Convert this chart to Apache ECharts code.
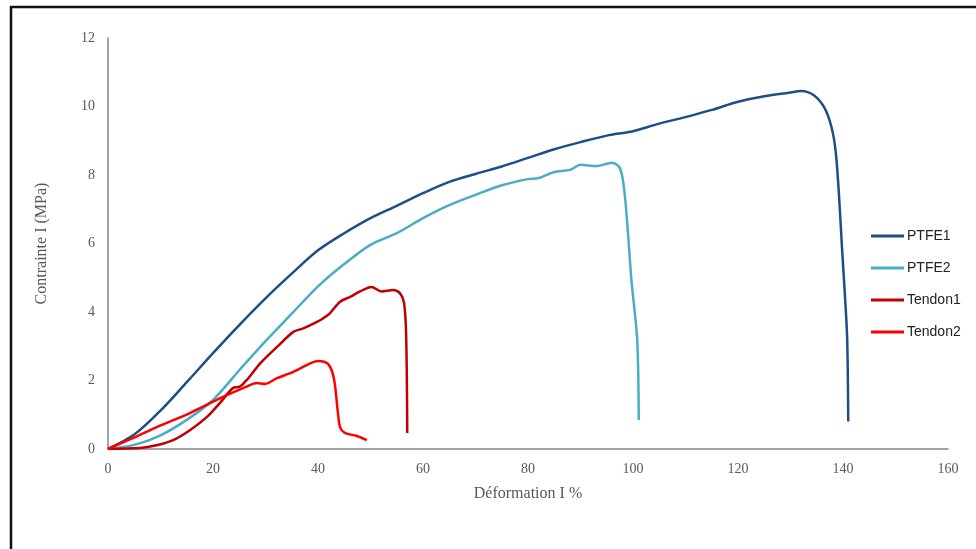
<!DOCTYPE html>
<html><head><meta charset="utf-8">
<script src="https://cdn.jsdelivr.net/npm/echarts@6/dist/echarts.min.js"></script>
<style>html,body{margin:0;padding:0;background:#fff}#c{width:976px;height:549px}</style>
</head><body><div id="c"></div>
<script>
var seriesNames = ['PTFE1', 'PTFE2', 'Tendon1', 'Tendon2'];
var xTicks = [0, 20, 40, 60, 80, 100, 120, 140, 160];
var yTicks = [0, 2, 4, 6, 8, 10, 12];
var ptfe1 = [[0,0],[5,0.42],[10,1.12],[15,1.95],[20,2.8],[25,3.62],[30,4.4],[35,5.12],[40,5.8],[45,6.3],[50,6.74],[55,7.1],[60,7.47],[65,7.8],[70,8.03],[75,8.25],[80,8.5],[85,8.75],[90,8.96],[95,9.15],[100,9.28],[105,9.5],[110,9.69],[115,9.9],[120,10.14],[125,10.3],[130,10.41],[132,10.45],[134.5,10.32],[136.5,9.95],[137.8,9.4],[138.6,8.7],[139.2,7.5],[139.8,5.9],[140.4,4.4],[140.8,3.2],[141,0.8]];
var ptfe2 = [[0,0],[5,0.12],[10,0.4],[15,0.85],[20,1.43],[25,2.3],[30,3.15],[35,3.95],[40,4.75],[45,5.4],[50,5.96],[55,6.3],[60,6.74],[65,7.12],[70,7.42],[75,7.7],[80,7.88],[82,7.91],[85,8.09],[88,8.15],[90,8.3],[93,8.26],[96,8.36],[97.5,8.2],[98.3,7.6],[99,6.4],[99.7,4.93],[100.4,3.9],[100.8,3.2],[101,2.2],[101.1,0.85]];
var tendon1 = [[0,0],[6.1,0.03],[9,0.1],[12.4,0.26],[15.6,0.55],[18.8,0.93],[21.3,1.34],[23.8,1.78],[25.1,1.82],[26.4,2.01],[29,2.5],[32.2,2.98],[35.3,3.42],[37.2,3.52],[39.8,3.71],[41,3.82],[42.3,3.97],[44.2,4.3],[46.1,4.44],[48,4.6],[50.2,4.73],[52.1,4.6],[54.3,4.64],[55.6,4.55],[56.4,4.26],[56.8,3.27],[57.0,0.47]];
var tendon2 = [[0,0],[4.5,0.3],[9.3,0.64],[15.6,1.05],[21.9,1.52],[26.4,1.82],[28.3,1.93],[29.9,1.9],[32.2,2.07],[35.3,2.25],[38.5,2.5],[40,2.57],[41.7,2.51],[42.6,2.3],[43.2,1.9],[43.8,1.05],[44.2,0.64],[45.1,0.47],[47.4,0.38],[49.3,0.26]];
var colors = ['#1F4E86', '#4BACC6', '#C00000', '#FF0000'];
var datas = [ptfe1, ptfe2, tendon1, tendon2];

var chart = echarts.init(document.getElementById('c'), null, {renderer: 'canvas'});
var series = seriesNames.map(function (n, i) {
  return {
    name: n, type: 'line', data: datas[i], symbol: 'none', smooth: 0.3,
    lineStyle: {color: colors[i], width: 2.5}, itemStyle: {color: colors[i]}
  };
});
chart.setOption({
  animation: false,
  backgroundColor: '#fff',
  grid: {left: 108, top: 38, right: 28, bottom: 100, containLabel: false},
  graphic: [{type: 'rect', shape: {x: 11, y: 7, width: 1000, height: 600},
    style: {fill: 'none', stroke: '#111', lineWidth: 2.5}}],
  legend: {
    orient: 'vertical', left: 866, top: 224, itemWidth: 33, itemHeight: 3, itemGap: 18,
    icon: 'rect',
    textStyle: {fontFamily: 'Liberation Sans', fontSize: 14, color: '#222', padding: [0, 0, 0, -2]},
    data: seriesNames
  },
  xAxis: {
    type: 'value', min: 0, max: 160, interval: 20,
    name: 'Déformation I %', nameLocation: 'middle', nameGap: 37,
    nameTextStyle: {fontFamily: 'Liberation Serif', fontSize: 16, color: '#595959'},
    axisLine: {show: true, lineStyle: {color: '#868686', width: 1.5}},
    axisTick: {show: false}, splitLine: {show: false},
    axisLabel: {fontFamily: 'Liberation Serif', fontSize: 14, color: '#595959', margin: 13,
      formatter: function (v) { return xTicks.indexOf(v) >= 0 ? String(v) : ''; }}
  },
  yAxis: {
    type: 'value', min: 0, max: 12, interval: 2,
    name: 'Contrainte I (MPa)', nameLocation: 'middle', nameGap: 58, nameRotate: 90,
    nameTextStyle: {fontFamily: 'Liberation Serif', fontSize: 16, color: '#595959'},
    axisLine: {show: true, lineStyle: {color: '#868686', width: 1.5}},
    axisTick: {show: false}, splitLine: {show: false},
    axisLabel: {fontFamily: 'Liberation Serif', fontSize: 14, color: '#595959', margin: 13,
      formatter: function (v) { return yTicks.indexOf(v) >= 0 ? String(v) : ''; }}
  },
  series: series
});
</script></body></html>
